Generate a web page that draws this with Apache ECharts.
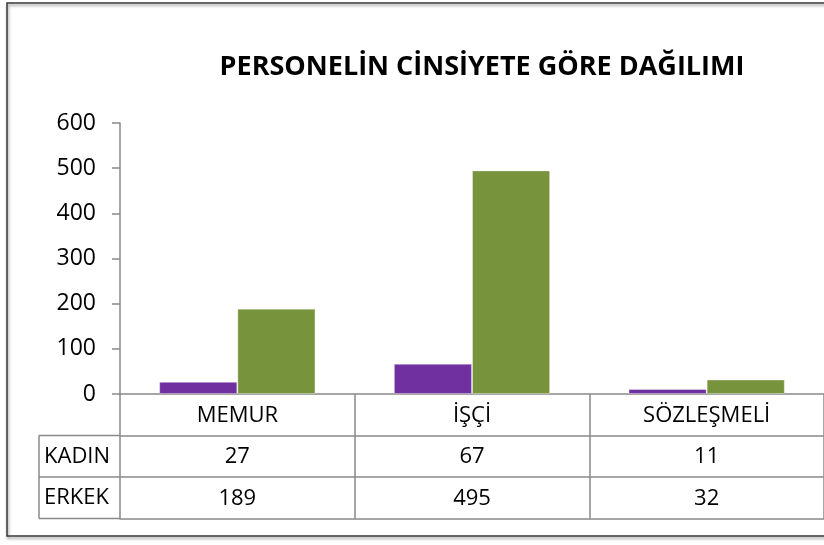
<!DOCTYPE html>
<html>
<head>
<meta charset="utf-8">
<script src="https://cdn.jsdelivr.net/npm/echarts@6/dist/echarts.min.js"></script>
<style>
html,body{margin:0;padding:0;background:#fff;}
#c{width:824px;height:545px;}
</style>
</head>
<body>
<div id="c"></div>
<script>
var titleText = 'PERSONELİN CİNSİYETE GÖRE DAĞILIMI';
var categories = ['MEMUR', 'İŞÇİ', 'SÖZLEŞMELİ'];
var seriesNames = ['KADIN', 'ERKEK'];
var kadin = [27, 67, 11];
var erkek = [189, 495, 32];
var yTicks = [0, 100, 200, 300, 400, 500, 600];

var FONT = 'Open Sans';
var LINE = '#898989';
var TFS = 22;
var chart = echarts.init(document.getElementById('c'), null, {renderer: 'canvas'});

var gridLeft = 120, gridTop = 123, gridBottomY = 394, rowH = 41.5;
var tableLeft = 39;

function valueAxis(values, offset, showLabel) {
  return {
    type: 'category',
    data: categories,
    position: 'bottom',
    offset: offset,
    axisLine: {show: true, lineStyle: {color: LINE, width: 1.5}},
    axisTick: {show: false},
    axisLabel: {
      show: showLabel,
      interval: 0,
      margin: 10.5,
      fontFamily: FONT,
      fontSize: TFS,
      color: '#000',
      formatter: function (v) {
        var i = categories.indexOf(v);
        return values ? String(values[i]) : '';
      }
    }
  };
}

var option = {
  animation: false,
  backgroundColor: '#fff',
  title: {
    text: titleText,
    left: 477,
    top: 49,
    textAlign: 'center',
    textStyle: {fontFamily: FONT, fontWeight: 'bold', fontSize: 27, color: '#000'}
  },
  grid: {left: gridLeft, top: gridTop, right: -4, bottom: 545 - gridBottomY, containLabel: false},
  yAxis: {
    type: 'value',
    min: yTicks[0],
    max: yTicks[yTicks.length - 1],
    interval: yTicks[1] - yTicks[0],
    axisLine: {show: true, lineStyle: {color: LINE, width: 1.5}},
    axisTick: {show: true, length: 8, lineStyle: {color: LINE, width: 1.5}},
    splitLine: {show: false},
    axisLabel: {margin: 24, fontFamily: FONT, fontSize: 23, color: '#000'}
  },
  xAxis: [
    {
      type: 'category',
      data: categories,
      position: 'bottom',
      axisLine: {show: true, lineStyle: {color: LINE, width: 1.5}},
      axisTick: {show: true, length: rowH * 3, inside: false, lineStyle: {color: LINE, width: 1.5}},
      axisLabel: {interval: 0, margin: 10.5, fontFamily: FONT, fontSize: TFS, color: '#000'}
    },
    valueAxis(kadin, rowH, true),
    valueAxis(erkek, rowH * 2, true),
    valueAxis(null, rowH * 3, false)
  ],
  series: [
    {
      name: seriesNames[0], type: 'bar', xAxisIndex: 0, data: kadin,
      barWidth: '33.3%', barGap: '0%',
      itemStyle: {color: '#7030A0', borderColor: 'rgba(255,255,255,0.35)', borderWidth: 1}
    },
    {
      name: seriesNames[1], type: 'bar', xAxisIndex: 0, data: erkek,
      barWidth: '33.3%', barGap: '0%',
      itemStyle: {color: '#77933C', borderColor: 'rgba(255,255,255,0.35)', borderWidth: 1}
    }
  ],
  graphic: [
    {type: 'rect', shape: {x: 7, y: 3, width: 840, height: 533},
     style: {fill: 'none', stroke: '#3a3a3a', lineWidth: 1.5, shadowBlur: 3, shadowColor: 'rgba(0,0,0,0.45)', shadowOffsetY: 2, shadowOffsetX: 1}, z: 0},
    {type: 'line', shape: {x1: tableLeft, y1: gridBottomY + rowH, x2: gridLeft, y2: gridBottomY + rowH}, style: {stroke: LINE, lineWidth: 1.5}},
    {type: 'line', shape: {x1: tableLeft, y1: gridBottomY + rowH * 2, x2: gridLeft, y2: gridBottomY + rowH * 2}, style: {stroke: LINE, lineWidth: 1.5}},
    {type: 'line', shape: {x1: tableLeft, y1: gridBottomY + rowH * 3, x2: gridLeft, y2: gridBottomY + rowH * 3}, style: {stroke: LINE, lineWidth: 1.5}},
    {type: 'line', shape: {x1: tableLeft, y1: gridBottomY + rowH, x2: tableLeft, y2: gridBottomY + rowH * 3}, style: {stroke: LINE, lineWidth: 1.5}},
    {type: 'text', x: tableLeft + 5, y: gridBottomY + rowH * 1.5, style: {text: seriesNames[0], fontFamily: FONT, fontSize: TFS, fill: '#000', verticalAlign: 'middle', align: 'left'}},
    {type: 'text', x: tableLeft + 5, y: gridBottomY + rowH * 2.5, style: {text: seriesNames[1], fontFamily: FONT, fontSize: TFS, fill: '#000', verticalAlign: 'middle', align: 'left'}}
  ]
};
chart.setOption(option);
</script>
</body>
</html>
